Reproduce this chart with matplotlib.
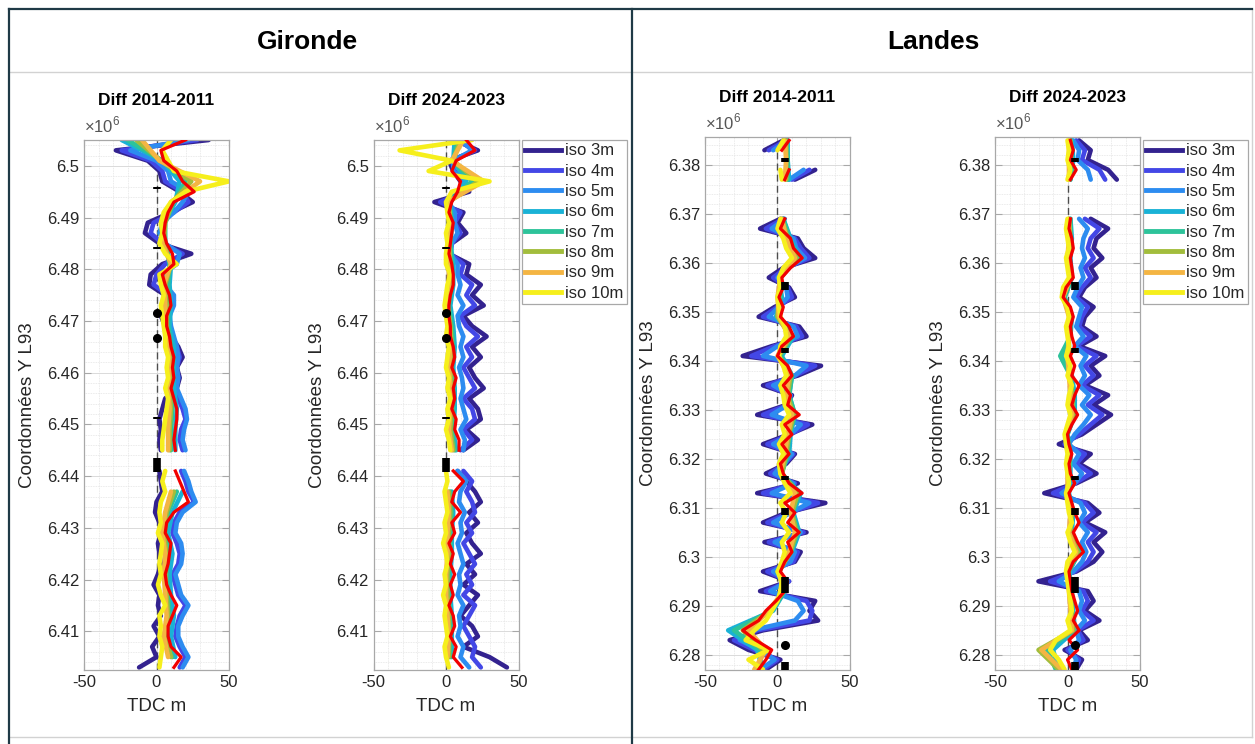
import numpy as np
import matplotlib.pyplot as plt
from matplotlib.lines import Line2D
from matplotlib.ticker import MultipleLocator, FuncFormatter

plt.rcParams['font.family'] = ['Liberation Sans', 'DejaVu Sans']
plt.rcParams['mathtext.fontset'] = 'custom'
plt.rcParams['mathtext.rm'] = 'Liberation Sans'
plt.rcParams['axes.unicode_minus'] = False

nan = np.nan

# Ordonnees des profils (km, L93)
y_gir = np.array([6505, 6503, 6501, 6499, 6497, 6495, 6493, 6491, 6489, 6487,
                  6485, 6483, 6481, 6479, 6477, 6475, 6473, 6471, 6469, 6467,
                  6465, 6463, 6461, 6459, 6457, 6455, 6453, 6451, 6449, 6447,
                  6445, 6443, 6441, 6439, 6437, 6435, 6433, 6431, 6429, 6427,
                  6425, 6423, 6421, 6419, 6417, 6415, 6413, 6411, 6409, 6407,
                  6405, 6403])
y_lan = np.array([6385, 6383, 6381, 6379, 6377, 6375, 6373, 6371, 6369, 6367,
                  6365, 6363, 6361, 6359, 6357, 6355, 6353, 6351, 6349, 6347,
                  6345, 6343, 6341, 6339, 6337, 6335, 6333, 6331, 6329, 6327,
                  6325, 6323, 6321, 6319, 6317, 6315, 6313, 6311, 6309, 6307,
                  6305, 6303, 6301, 6299, 6297, 6295, 6293, 6291, 6289, 6287,
                  6285, 6283, 6281, 6279, 6277])
# isobathes intermediaires : un point sur deux
y_gir_mid = y_gir[::2]
y_lan_mid = y_lan[::2]

# ---- Gironde, diff 2014-2011 (TDC en m)
g1_iso3 = [36, -28, -6, 2, 4, 16, 25, 10, -6, -8,
           2, 24, 4, -4, -5, 6, 8, 3, 6, 10,
           15, 18, 14, 16, 14, 6, 4, 2, 3, 2,
           3, nan, 2, 3, 4, 0, -1, 2, 3, 1,
           2, 3, 1, -2, 2, 1, 3, -2, 2, -3,
           0, -12]
g1_iso4 = [28, -24, -4, 4, 6, 18, 22, 12, -2, -4,
           4, 18, 6, 0, -2, 8, 9, 5, 7, 11,
           14, 16, 14, 15, 13, 15, 18, 20, 17, 16,
           18, nan, 17, 20, 22, 26, 16, 12, 11, 14,
           16, 15, 11, 13, 15, 20, 16, 14, 13, 16,
           20, 16]
g1_iso5 = [22, -18, 0, 8, 10, 22, 18, 12, 4, 2,
           6, 16, 14, 4, 6, 12, 12, 9, 10, 12,
           14, 15, 14, 15, 14, 17, 20, 21, 19, 18,
           20, nan, 19, 22, 24, 27, 18, 14, 13, 17,
           18, 17, 13, 15, 17, 22, 18, 15, 15, 18,
           22, 18]
g1_iso6 = [-24, 4, 16, 13, 5, 6, 10, 9, 10, 9, 12, 12, 12, 14, 13, 13, nan,
           18, 11, 8, 11, 9, 10, 12, 10, 13]
g1_iso7 = [-20, 4, 20, 12, 6, 6, 9, 8, 8, 8, 10, 11, 10, 11, 10, 10, nan,
           14, 8, 6, 8, 7, 8, 9, 7, 11]
g1_iso8 = [-14, 3, 24, 11, 6, 5, 10, 6, 7, 7, 9, 10, 9, 10, 9, 9, nan,
           12, 7, 5, 7, 6, 7, 8, 6, 10]
g1_iso9 = [-10, 2, 30, 10, 5, 4, 10, 5, 6, 6, 8, 9, 8, 9, 8, 8, nan,
           10, 6, 4, 6, 5, 6, 7, 5, 8]
g1_iso10 = [10, 4, 8, 12, 50, 20, 10, 5, 3, 4,
            2, 6, 14, 2, 3, 5, 3, 4, 5, 6,
            6, 8, 7, 8, 6, 8, 7, 6, 5, 4,
            4, nan, 6, 4, 6, 3, 2, 3, 1, 4,
            3, 2, 3, 1, 3, 6, 2, 3, 2, 4,
            3, 2]
g1_moy = [20, 3, 5, 14, 18, 26, 12, 8, 6, 5,
          7, 11, 12, 4, 6, 9, 10, 7, 7, 9,
          10, 12, 11, 12, 10, 12, 14, 14, 13, 12,
          13, nan, 13, 16, 19, 22, 12, 7, 6, 10,
          9, 8, 6, 7, 10, 14, 11, 8, 8, 10,
          17, 12]

# ---- Gironde, diff 2024-2023
g2_iso3 = [6, 22, 2, 5, 10, 16, -8, 12, 8, 14,
           4, 2, 16, 14, 24, 18, 26, 12, 18, 28,
           18, 24, 16, 20, 26, 16, 22, 24, 14, 22,
           12, nan, 8, 14, 20, 24, 16, 22, 14, 18,
           24, 14, 20, 12, 22, 16, 10, 18, 22, 12,
           30, 42]
g2_iso4 = [8, 20, 4, 6, 12, 12, -4, 10, 6, 10,
           4, 3, 12, 10, 18, 14, 20, 10, 14, 22,
           14, 18, 12, 16, 20, 12, 18, 20, 12, 18,
           10, nan, 12, 18, 14, 18, 20, 14, 18, 12,
           16, 20, 14, 18, 12, 20, 16, 12, 16, 20,
           18, 24]
g2_iso5 = [10, 18, 5, 5, 12, 10, 2, 6, 6, 8,
           4, 3, 8, 8, 10, 8, 12, 8, 9, 12,
           10, 12, 9, 11, 12, 10, 12, 14, 10, 13,
           12, nan, 8, 14, 10, 9, 13, 10, 11, 8,
           10, 12, 9, 10, 8, 12, 9, 10, 8, 12,
           10, 16]
g2_iso6 = [6, 5, 14, 3, 4, 3, 5, 5, 3, 5, 6, 5, 6, 6, 5, 7, nan,
           4, 5, 4, 4, 3, 3, 4, 4, 4]
g2_iso7 = [8, 5, 18, 2, 4, 3, 4, 4, 2, 4, 5, 4, 5, 5, 4, 6, nan,
           3, 4, 3, 3, 2, 2, 3, 3, 3]
g2_iso8 = [10, 5, 22, 2, 3, 2, 3, 3, 1, 3, 4, 3, 4, 4, 3, 5, nan,
           2, 3, 2, 2, 1, 1, 2, 2, 2]
g2_iso9 = [12, 4, 26, 1, 3, 2, 2, 2, 0, 2, 3, 2, 3, 3, 2, 4, nan,
           1, 2, 1, 1, 0, 0, 1, 2, 1]
g2_iso10 = [18, -32, 4, -12, 30, 4, 0, 1, 2, 0,
            1, 0, 0, 3, 1, 0, -1, 0, 1, 0,
            2, 1, 0, 2, 1, 3, 1, 2, 0, 2,
            3, nan, 0, 1, -1, 0, 1, -1, 0, -2,
            0, 1, -1, 0, -2, 0, -1, 0, 1, -1,
            0, 2]
g2_moy = [14, 20, 7, 4, 10, 8, 4, 2, 5, 4,
          3, 2, 4, 5, 5, 3, 2, 2, 3, 3,
          5, 6, 4, 7, 5, 6, 4, 7, 6, 9,
          9, nan, 5, 12, 6, 4, 10, 4, 6, 2,
          5, 3, 6, 3, 5, 2, 5, 6, 3, 7,
          5, 11]

# ---- Landes, diff 2014-2011
l1_iso3 = [4, -9, nan, 26, 12, nan, nan, nan, 2, -12,
           14, 18, 26, 4, -6, 8, 12, -2, -13, 15,
           20, -4, -24, 30, 14, -10, 10, 6, -14, 24,
           8, -10, 12, 6, -8, 14, -14, 33, 6, -10,
           20, -9, 16, 12, -10, 8, -12, 26, 22, 28,
           -10, -33, -20, 2, -8]
l1_iso4 = [6, -6, nan, 22, 10, nan, nan, nan, 4, -8,
           12, 16, 22, 6, -3, 7, 10, 0, -10, 13,
           17, -2, -18, 26, 12, -7, 9, 7, -10, 21,
           9, -7, 11, 5, -5, 12, -10, 28, 8, -7,
           18, -6, 14, 11, -7, 8, -8, 20, 24, 22,
           -14, -30, -16, 0, -10]
l1_iso5 = [7, -3, nan, 18, 8, nan, nan, nan, 5, -4,
           11, 13, 19, 7, 0, 6, 7, 1, -6, 11,
           14, 0, -10, 20, 12, -3, 9, 7, -4, 16,
           9, -3, 10, 4, -2, 11, -4, 22, 9, -3,
           16, -2, 12, 9, -3, 7, -5, 14, 18, 12,
           -18, -26, -12, -2, -12]
l1_iso6 = [7, 7, 8, nan, 4, 9, 15, 1, 3, -1, 11, 3, 10, 8, 12, 9, 8, 2,
           16, 11, 15, 10, 0, 5, -3, -34, -14, -10]
l1_iso7 = [6, 7, 7, nan, 4, 8, 14, 2, 2, 0, 10, 2, 10, 8, 12, 8, 7, 3,
           15, 10, 14, 9, 1, 5, -4, -30, -12, -12]
l1_iso8 = [6, 6, 6, nan, 3, 7, 13, 2, 1, 0, 9, 1, 9, 7, 11, 8, 6, 3,
           14, 10, 13, 9, 1, 4, -5, -24, -10, -14]
l1_iso9 = [5, 6, 5, nan, 3, 6, 12, 2, 0, 1, 8, 0, 8, 6, 10, 7, 5, 2,
           12, 9, 12, 8, 1, 4, -6, -20, -8, -16]
l1_iso10 = [4, 0, nan, 2, 3, nan, nan, nan, 2, 0,
            4, 6, 10, 4, 1, 2, 0, 1, 2, 5,
            6, 2, 1, 4, 6, 2, 4, 5, 8, 3,
            5, 1, 4, 1, 2, 5, 9, 2, 6, 3,
            8, 3, 5, 3, 0, 3, 2, 0, -4, -8,
            -16, -22, -6, -20, -10]
l1_moy = [8, 3, nan, 8, 5, nan, nan, nan, 5, 2,
          9, 11, 17, 9, 3, 4, 1, 4, 2, 8,
          11, 3, 0, 7, 10, 4, 9, 7, 15, 5,
          10, 3, 8, 2, 4, 8, 17, 5, 12, 7,
          15, 7, 10, 5, 2, 7, 5, -1, -8, -13,
          -24, -15, -4, -8, -13]

# ---- Landes, diff 2024-2023
l2_iso3 = [8, 16, 14, 28, 34, nan, nan, nan, 16, 28,
           20, 18, 24, 16, 20, 12, 8, 18, 12, 10,
           20, 8, 26, 16, 22, 12, 28, 18, 30, 20,
           10, -6, 16, 8, 20, 6, -16, 14, 22, 12,
           26, 18, 24, 18, 6, -20, 14, 18, 12, 22,
           8, 14, -2, 10, 6]
l2_iso4 = [6, 12, 10, 22, 26, nan, nan, nan, 12, 22,
           16, 14, 18, 12, 16, 10, 6, 14, 10, 8,
           16, 6, 20, 12, 18, 10, 22, 14, 24, 16,
           8, -2, 12, 6, 16, 5, -10, 12, 18, 10,
           20, 14, 18, 14, 5, -12, 11, 14, 10, 18,
           7, 11, 0, 8, 5]
l2_iso5 = [4, 8, 7, 14, 16, nan, nan, nan, 8, 14,
           11, 10, 12, 9, 11, 7, 4, 10, 8, 6,
           11, 5, 13, 9, 12, 8, 15, 10, 16, 11,
           5, 1, 8, 4, 10, 5, -4, 9, 12, 8,
           14, 10, 13, 10, 4, -6, 8, 10, 8, 12,
           6, 8, 2, 6, 4]
l2_iso6 = [3, 4, 2, nan, 2, 3, 2, 3, -2, 3, 2, -3, 3, 5, 5, 0, 2, 2,
           1, 4, 3, 8, 1, 3, 4, 5, -10, -6]
l2_iso7 = [2, 3, 2, nan, 2, 2, 1, 3, -2, 2, 2, -5, 2, 4, 4, 0, 2, 1,
           0, 3, 2, 8, 1, 2, 3, 4, -14, -8]
l2_iso8 = [2, 2, 1, nan, 1, 2, 1, 2, -3, 2, 1, 1, 2, 3, 4, -1, 1, 1,
           0, 3, 2, 7, 0, 2, 3, 4, -20, -6]
l2_iso9 = [1, 1, 1, nan, 1, 1, 0, 2, -3, 1, 1, 0, 1, 2, 3, -1, 1, 0,
           0, 2, 1, 6, 0, 1, 2, 3, -18, -4]
l2_iso10 = [0, 1, 0, 2, 0, nan, nan, nan, 0, -1,
            0, 1, -1, 0, 1, -3, -4, 0, 1, -1,
            0, 1, -1, 2, 0, 3, 1, 0, 2, 0,
            -2, -1, 0, -1, 0, 1, -1, 0, 1, 3,
            0, 2, 5, 0, -1, 0, 1, 2, 3, 0,
            2, -8, -12, -6, -2]
l2_moy = [2, 4, 2, 6, 2, nan, nan, nan, 2, 1,
          3, 4, 2, 3, 4, -1, -3, 2, 4, 2,
          3, 5, 2, 5, 3, 8, 5, 3, 7, 3,
          0, 1, 3, 1, 2, 5, 1, 3, 5, 8,
          4, 7, 11, 4, 1, 2, 3, 5, 7, 4,
          8, 1, 7, 0, 3]

# ouvrages (km) : segments et points
gir_marks = [(6496.0, 6495.6), (6484.3, 6483.9), (6451.5, 6451.1), (6443.5, 6440.8)]
gir_dots = [6471.6, 6466.7]
lan_marks = [(6381.5, 6380.6), (6356.2, 6354.4), (6342.6, 6341.6), (6316.6, 6315.6),
             (6310.0, 6308.6), (6295.8, 6292.6), (6278.6, 6276.9)]
lan_dots = [6282.0]

iso_labels = ['iso 3m', 'iso 4m', 'iso 5m', 'iso 6m', 'iso 7m', 'iso 8m', 'iso 9m', 'iso 10m']
iso_colors = ['#33228f', '#4347e6', '#2d8cf0', '#19b2d6', '#2dc39a', '#a2bd3c', '#f4b543', '#f6ef1c']
txt = '#262626'
edge = '#a8a8a8'


def draw_profile(ax, yf, ym, isos, moy, marks, dots, xm, ylim, title):
    ax.axvline(0, color='0.3', lw=1, ls=(0, (5, 3)), zorder=1)
    grids = [yf, yf, yf, ym, ym, ym, ym, yf]
    for k in range(8):
        ax.plot(isos[k], grids[k] * 1e3, color=iso_colors[k], lw=3.3,
                solid_joinstyle='round', solid_capstyle='round', zorder=2)
    ax.plot(moy, yf * 1e3, color='#f20000', lw=2.3, solid_joinstyle='round', zorder=3)
    for a, b in marks:
        ax.plot([xm, xm], [a * 1e3, b * 1e3], color='k', lw=5.5, solid_capstyle='butt', zorder=4)
    ax.plot([xm] * len(dots), np.array(dots) * 1e3, 'o', color='k', ms=5.5, zorder=4)

    ax.set_xlim(-50, 50)
    ax.set_ylim(ylim[0] * 1e3, ylim[1] * 1e3)
    ax.set_xticks([-50, 0, 50])
    ax.xaxis.set_minor_locator(MultipleLocator(10))
    ax.yaxis.set_major_locator(MultipleLocator(10e3))
    ax.yaxis.set_minor_locator(MultipleLocator(2e3))
    ax.yaxis.set_major_formatter(FuncFormatter(lambda v, p: f'{round(v / 1e6, 4):g}'))
    ax.grid(which='major', color='#dadada', lw=0.7)
    ax.grid(which='minor', color='#e4e4e4', lw=0.6, ls=(0, (1, 1)))
    ax.set_axisbelow(True)
    ax.tick_params(which='major', direction='in', length=5, width=0.8, color=edge,
                   labelsize=12, labelcolor=txt, left=True, right=True, top=True, bottom=True)
    ax.tick_params(which='minor', length=0)
    for s in ax.spines.values():
        s.set_color(edge)
        s.set_linewidth(0.9)
    ax.set_xlabel('TDC m', fontsize=13.5, color=txt, labelpad=6)
    ax.set_ylabel('Coordonnées Y L93', fontsize=13.5, color=txt)
    ax.yaxis.set_label_coords(-0.33, 0.5)
    ax.set_title(title, fontsize=12.5, fontweight='bold', color='k', pad=25)
    ax.text(0.0, 1.008, r'$\times10^{6}$', transform=ax.transAxes, ha='left', va='bottom',
            fontsize=12, color='#555555')


W, H = 1255, 744
fig = plt.figure(figsize=(W / 100, H / 100), dpi=100)

axes_px = [(84, 140, 670), (373.5, 140, 670), (705, 137, 670), (995, 137, 670)]
axs = []
for left, top, bottom in axes_px:
    axs.append(fig.add_axes([left / W, 1 - bottom / H, 145 / W, (bottom - top) / H]))

draw_profile(axs[0], y_gir, y_gir_mid,
             [g1_iso3, g1_iso4, g1_iso5, g1_iso6, g1_iso7, g1_iso8, g1_iso9, g1_iso10],
             g1_moy, gir_marks, gir_dots, 0, (6402.5, 6505.0), 'Diff 2014-2011')
draw_profile(axs[1], y_gir, y_gir_mid,
             [g2_iso3, g2_iso4, g2_iso5, g2_iso6, g2_iso7, g2_iso8, g2_iso9, g2_iso10],
             g2_moy, gir_marks, gir_dots, 0, (6402.5, 6505.0), 'Diff 2024-2023')
draw_profile(axs[2], y_lan, y_lan_mid,
             [l1_iso3, l1_iso4, l1_iso5, l1_iso6, l1_iso7, l1_iso8, l1_iso9, l1_iso10],
             l1_moy, lan_marks, lan_dots, 5, (6276.9, 6385.7), 'Diff 2014-2011')
draw_profile(axs[3], y_lan, y_lan_mid,
             [l2_iso3, l2_iso4, l2_iso5, l2_iso6, l2_iso7, l2_iso8, l2_iso9, l2_iso10],
             l2_moy, lan_marks, lan_dots, 5, (6276.9, 6385.7), 'Diff 2024-2023')

handles = [Line2D([], [], color=c, lw=3.5) for c in iso_colors]
for ax, lx in [(axs[1], 522), (axs[3], 1143)]:
    leg = ax.legend(handles, iso_labels, loc='upper left', bbox_to_anchor=(lx / W, 1 - 140 / H),
                    bbox_transform=fig.transFigure, borderaxespad=0, fontsize=12,
                    handlelength=2.15, handletextpad=0.25, labelspacing=0.32, borderpad=0.2,
                    fancybox=False, framealpha=1, edgecolor=edge)
    leg.get_frame().set_linewidth(0.9)
    for t in leg.get_texts():
        t.set_color(txt)

# titres des blocs
fig.text(307 / W, 1 - 42 / H, 'Gironde', ha='center', va='center', fontsize=19, fontweight='bold')
fig.text(933 / W, 1 - 42 / H, 'Landes', ha='center', va='center', fontsize=19, fontweight='bold')

# cadre du tableau
dark = '#1f3a46'
light = '#d2d2d2'
for xs, ys, c, w in [
        ([9, 1252], [737, 737], light, 1.0),
        ([1252, 1252], [9, 737], light, 1.0),
        ([9, 1252], [72, 72], light, 1.0),
        ([9, 1252], [9, 9], dark, 1.6),
        ([9, 9], [9, 744], dark, 1.6),
        ([632, 632], [9, 744], dark, 1.6)]:
    fig.add_artist(Line2D([x / W for x in xs], [1 - y / H for y in ys], color=c, lw=w))

fig.savefig('out.png', dpi=100, facecolor='white')
